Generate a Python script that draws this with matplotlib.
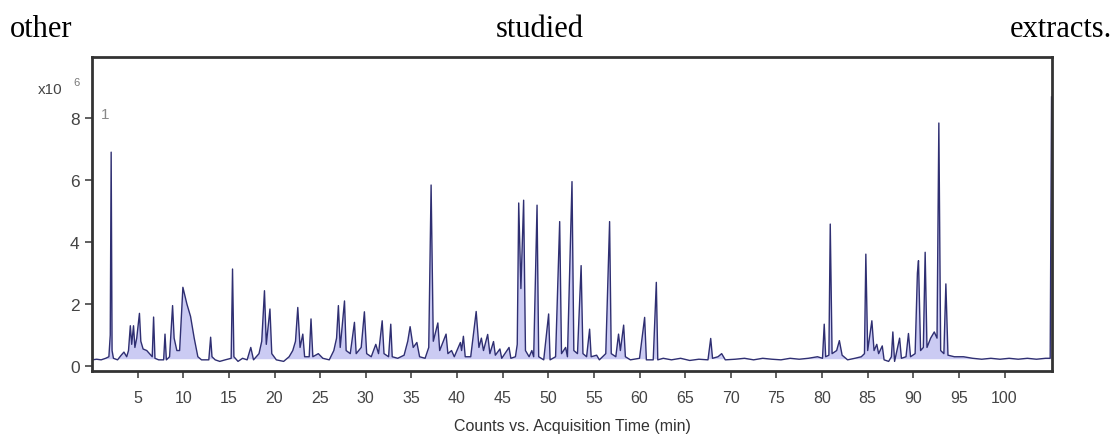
import matplotlib
matplotlib.use("Agg")
import matplotlib.pyplot as plt
import numpy as np

# chromatogram vertices (time in min, counts in 1e6)
rt_min = [
    0.0, 0.05, 0.5, 1.0, 1.5, 1.85, 2.0, 2.1, 2.2, 2.35, 2.8, 3.2, 3.5, 3.8,
    4.0, 4.2, 4.35, 4.55, 4.7, 4.9, 5.2, 5.35, 5.6, 6.0, 6.3, 6.6, 6.75, 6.9,
    7.3, 7.85, 8.0, 8.15, 8.5, 8.83, 9.0, 9.3, 9.6, 9.96, 10.4, 10.8, 11.2,
    11.6, 12.0, 12.8, 13.0, 13.15, 13.5, 14.0, 14.6, 15.25, 15.4, 15.55, 16.0,
    16.5, 17.0, 17.4, 17.7, 18.3, 18.6, 18.9, 19.1, 19.5, 19.7, 20.2, 21.0,
    21.6, 22.0, 22.3, 22.55, 22.8, 23.1, 23.3, 23.8, 24.0, 24.2, 24.8, 25.3,
    26.0, 26.5, 26.8, 27.0, 27.2, 27.67, 27.85, 28.3, 28.76, 28.95, 29.5,
    29.85, 30.1, 30.6, 31.1, 31.4, 31.8, 32.0, 32.5, 32.74, 32.9, 33.5, 34.2,
    34.6, 34.86, 35.2, 35.6, 35.9, 36.5, 36.9, 37.16, 37.4, 37.9, 38.1, 38.8,
    39.0, 39.4, 39.7, 40.37, 40.5, 40.7, 40.9, 41.5, 42.1, 42.4, 42.67, 42.9,
    43.36, 43.6, 44.0, 44.2, 44.7, 44.9, 45.7, 45.9, 46.4, 46.6, 46.76, 47.0,
    47.3, 47.5, 47.9, 48.2, 48.4, 48.77, 48.95, 49.5, 50.04, 50.2, 50.8,
    51.25, 51.45, 51.9, 52.1, 52.6, 52.8, 53.2, 53.6, 53.8, 54.2, 54.53, 54.7,
    55.3, 55.6, 56.3, 56.72, 56.9, 57.4, 57.7, 57.9, 58.26, 58.45, 59.0, 60.0,
    60.56, 60.75, 61.5, 61.84, 62.0, 62.6, 63.5, 64.5, 65.5, 66.5, 67.5, 67.8,
    68.0, 68.6, 69.0, 69.4, 70.5, 71.5, 72.5, 73.5, 74.5, 75.5, 76.5, 77.5,
    78.5, 79.5, 80.05, 80.24, 80.4, 80.75, 80.9, 81.1, 81.6, 81.9, 82.2, 82.8,
    83.6, 84.3, 84.65, 84.8, 85.0, 85.46, 85.7, 86.0, 86.2, 86.6, 86.8, 87.3,
    87.6, 87.76, 87.95, 88.5, 88.7, 89.2, 89.47, 89.7, 90.2, 90.45, 90.57,
    90.8, 91.1, 91.3, 91.5, 91.9, 92.3, 92.6, 92.8, 93.0, 93.35, 93.57, 93.8,
    94.5, 95.5, 96.5, 97.5, 98.5, 99.5, 100.5, 101.5, 102.5, 103.5, 104.5,
    105.0, 105.15,
]
counts = [
    8.6, 0.2, 0.22, 0.2, 0.25, 0.3, 1.0, 6.9, 0.5, 0.25, 0.2, 0.35, 0.45, 0.3,
    0.5, 1.3, 0.7, 1.3, 0.6, 0.9, 1.7, 0.8, 0.55, 0.5, 0.4, 0.3, 1.58, 0.25,
    0.2, 0.2, 1.03, 0.2, 0.3, 1.95, 0.9, 0.5, 0.5, 2.54, 2.0, 1.6, 0.9,
    0.3, 0.2, 0.2, 0.93, 0.3, 0.2, 0.15, 0.2, 0.25, 3.13, 0.3, 0.15,
    0.25, 0.2, 0.6, 0.2, 0.4, 0.8, 2.43, 0.7, 1.84, 0.4, 0.2, 0.15,
    0.3, 0.5, 0.8, 1.89, 0.6, 1.03, 0.3, 0.3, 1.52, 0.3, 0.4, 0.25,
    0.2, 0.5, 0.9, 1.95, 0.6, 2.1, 0.5, 0.4, 1.41, 0.4, 0.6,
    1.75, 0.4, 0.3, 0.7, 0.4, 1.46, 0.4, 0.3, 1.35, 0.3, 0.25, 0.35,
    0.8, 1.27, 0.6, 0.76, 0.3, 0.25, 0.6, 5.84, 0.8, 1.39, 0.5, 1.03,
    0.4, 0.5, 0.3, 0.76, 0.5, 0.96, 0.3, 0.3, 1.76, 0.6, 0.9, 0.5,
    1.02, 0.4, 0.79, 0.35, 0.55, 0.25, 0.6, 0.25, 0.3, 0.7, 5.26, 2.5,
    5.35, 0.5, 0.3, 0.5, 0.3, 5.19, 0.3, 0.2, 1.68, 0.2, 0.3,
    4.66, 0.4, 0.6, 0.3, 5.95, 0.5, 0.4, 3.24, 0.4, 0.3, 1.19, 0.3,
    0.35, 0.2, 0.4, 4.66, 0.4, 0.3, 1.03, 0.5, 1.32, 0.3, 0.2, 0.25,
    1.57, 0.2, 0.2, 2.7, 0.2, 0.25, 0.2, 0.25, 0.18, 0.22, 0.2, 0.89,
    0.25, 0.3, 0.4, 0.2, 0.22, 0.25, 0.2, 0.25, 0.22, 0.2, 0.25, 0.22,
    0.25, 0.3, 0.25, 1.35, 0.3, 0.35, 4.58, 0.4, 0.5, 0.82, 0.35, 0.2,
    0.25, 0.3, 0.4, 3.61, 0.5, 1.46, 0.5, 0.7, 0.4, 0.65, 0.2, 0.15,
    0.3, 1.1, 0.15, 0.9, 0.25, 0.3, 1.05, 0.3, 0.4, 3.0, 3.4,
    0.5, 0.6, 3.67, 0.6, 0.9, 1.1, 0.9, 7.84, 0.5, 0.4, 2.65, 0.35,
    0.3, 0.3, 0.25, 0.22, 0.25, 0.22, 0.25, 0.22, 0.25, 0.22, 0.25,
    0.25, 8.68,
]
x_ticks = [5, 10, 15, 20, 25, 30, 35, 40, 45, 50, 55, 60, 65, 70, 75, 80, 85, 90, 95, 100]
y_ticks = [0, 2, 4, 6, 8]

W, H = 1114, 435
fig = plt.figure(figsize=(W / 100, H / 100), dpi=100)
ax = fig.add_axes([92 / W, 1 - 372 / H, (1052 - 92) / W, (372 - 58) / H])

x = np.array(rt_min)
y = np.array(counts)
ax.fill_between(x, 0.22, y, where=y > 0.22, color="#c6c6f2", alpha=0.9, lw=0, interpolate=True)
ax.plot(x, y, color="#2f2f72", lw=1.0)

ax.set_xlim(0, 105.2)
ax.set_ylim(-0.16, 9.97)
ax.set_xticks(x_ticks)
ax.set_yticks(y_ticks)
ax.tick_params(axis="both", colors="#444444", length=5, width=1.2, direction="out")
ax.tick_params(axis="x", labelsize=11.5, pad=9)
ax.tick_params(axis="y", labelsize=12.5, pad=4)
for lab in ax.get_xticklabels() + ax.get_yticklabels():
    lab.set_fontfamily("Liberation Sans")
for sp in ax.spines.values():
    sp.set_color("#333333")
    sp.set_linewidth(2)

ax.set_xlabel("Counts vs. Acquisition Time (min)", fontsize=11.5, color="#333333",
              fontfamily="Liberation Sans", labelpad=9)
ax.text(0.95, 8.13, "1", fontsize=11, color="#888888", fontfamily="Liberation Sans",
        va="center", ha="left")

fig.text(62 / W, 1 - 90 / H, "x10", fontsize=11, color="#444444",
         fontfamily="Liberation Sans", ha="right", va="center")
fig.text(77 / W, 1 - 83 / H, "6", fontsize=8, color="#777777",
         fontfamily="Liberation Sans", ha="center", va="center")

# the caption line above the figure
serif = "Liberation Serif"
fig.text(10 / W, 1 - 37 / H, "other", fontsize=22, fontfamily=serif, va="baseline", ha="left")
fig.text(540 / W, 1 - 37 / H, "studied", fontsize=22, fontfamily=serif, va="baseline", ha="center")
fig.text(1112 / W, 1 - 37 / H, "extracts.", fontsize=22, fontfamily=serif, va="baseline", ha="right")

fig.savefig("out.png", dpi=100)
